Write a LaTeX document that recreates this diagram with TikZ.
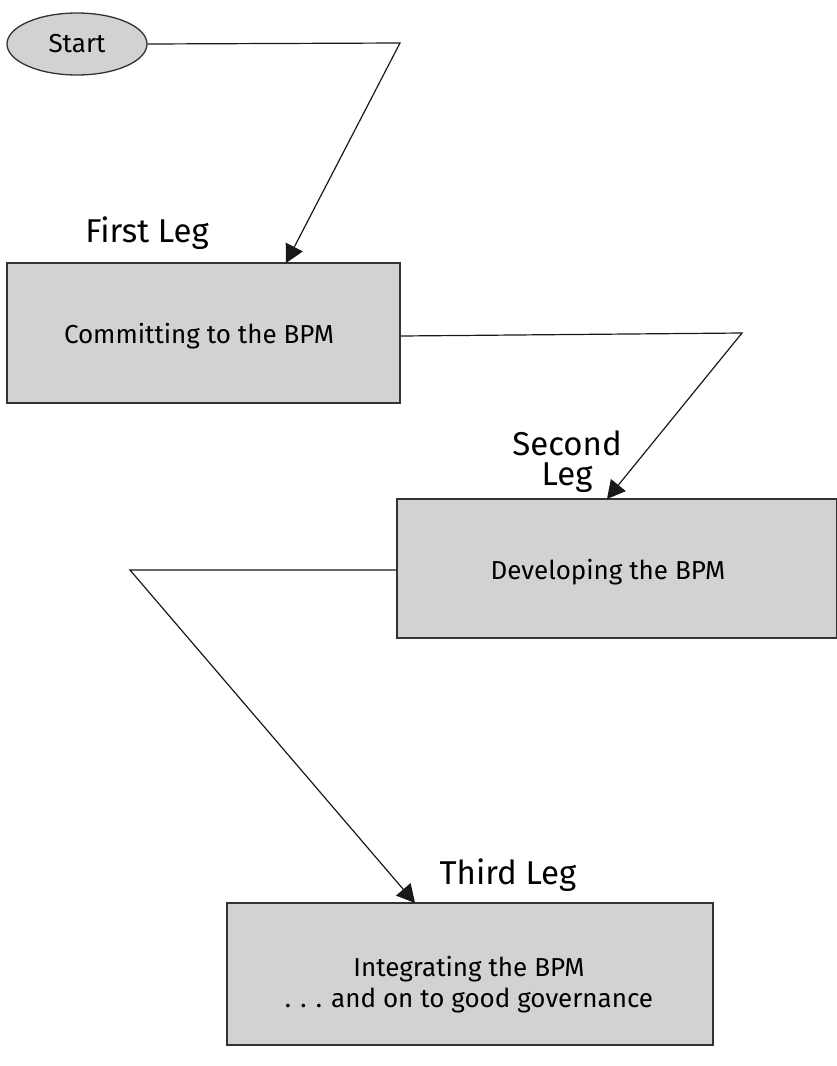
\documentclass[tikz,border=0pt]{standalone}
\usepackage{fontspec}
\setmainfont{Fira Sans}
\usetikzlibrary{shapes.geometric,arrows.meta}
\definecolor{boxgray}{HTML}{D1D2D4}
\definecolor{edgegray}{HTML}{333333}
\begin{document}
\begin{tikzpicture}[x=1pt,y=-1pt,
  stepbox/.style={draw=edgegray,line width=1.5pt,fill=boxgray,rectangle,inner sep=0pt},
  boxtext/.style={font=\fontsize{26}{31}\selectfont,align=center,inner sep=0pt,anchor=base},
  legtitle/.style={font=\fontsize{33}{30}\selectfont,align=center,inner sep=0pt,anchor=base},
  conn/.style={draw=black!90,line width=1.2pt},
  arr/.style={conn,-{Triangle[length=18pt,width=19pt]}}]
\useasboundingbox (0,0) rectangle (836,1066);
\node[ellipse,draw=edgegray,line width=1.3pt,fill=boxgray,minimum width=140pt,minimum height=62pt,inner sep=0pt,font=\fontsize{26}{31}\selectfont] (start) at (77,44) {Start};
\node[stepbox,minimum width=393pt,minimum height=140pt] (b1) at (203.5,333) {};
\node[stepbox,minimum width=440pt,minimum height=139pt] (b2) at (617,568.5) {};
\node[stepbox,minimum width=486pt,minimum height=142pt] (b3) at (470,974) {};
\node[boxtext] (b1t) at (199,343) {Committing to the BPM};
\node[boxtext] (b2t) at (608,579) {Developing the BPM};
\node[boxtext] (b3t) at (469,1007) {Integrating the BPM\\. . . and on to good governance};
\node[legtitle] (l1) at (147,242) {First Leg};
\node[legtitle] (l2) at (567,485) {Second\\Leg};
\node[legtitle] (l3) at (508,884) {Third Leg};
\coordinate (c1) at (400,43);
\coordinate (t1) at (286,263);
\coordinate (c2a) at (400,336);
\coordinate (c2) at (742,333);
\coordinate (t2) at (607,499);
\coordinate (c3a) at (397,570);
\coordinate (c3) at (130,570);
\coordinate (t3) at (415,903);
\draw[arr] (start.east) -- (c1) -- (t1);
\draw[arr] (b1.east |- c2a) -- (c2) -- (t2);
\draw[arr] (b2.west |- c3a) -- (c3) -- (t3);
\end{tikzpicture}
\end{document}
